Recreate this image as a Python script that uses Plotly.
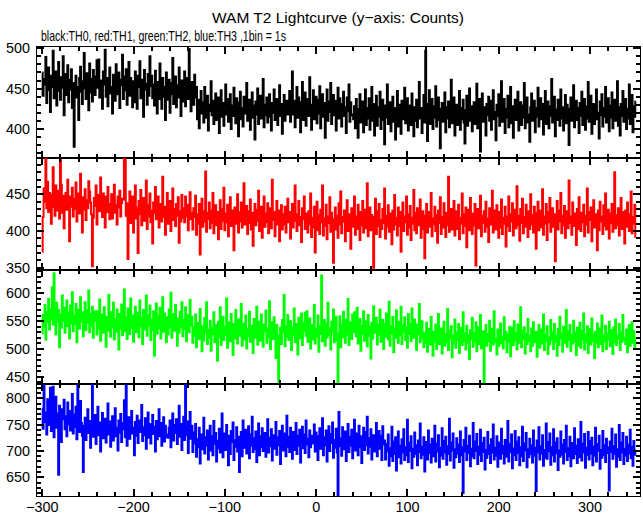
import plotly.graph_objects as go

# ---------------- data (counts per 1 s bin) ----------------
T_START = -300   # first bin time (s)
BIN_S = 1        # bin width (s)

th0_counts = [
    470, 441, 462, 455, 489, 432, 448, 476, 459, 421, 466, 452, 497, 438, 445, 471, 429, 458, 483, 447,
    436, 464, 451, 490, 417, 455, 468, 442, 479, 433, 461, 449, 474, 426, 457, 378, 444, 466, 439, 452,
    411, 463, 477, 446, 431, 459, 494, 450, 437, 469, 456, 423, 481, 445, 462, 434, 473, 458, 442, 465,
    485, 451, 486, 439, 460, 447, 425, 471, 455, 498, 440, 463, 428, 457, 476, 444, 452, 419, 467, 449,
    435, 480, 458, 443, 470, 426, 461, 454, 492, 437, 465, 448, 474, 430, 456, 483, 441, 463, 450, 427,
    459, 433, 471, 447, 425, 466, 452, 484, 438, 461, 444, 415, 473, 449, 456, 430, 468, 441, 490, 453,
    466, 438, 455, 429, 472, 444, 419, 458, 437, 481, 446, 425, 463, 440, 452, 411, 470, 436, 448, 461,
    420, 457, 443, 488, 431, 449, 465, 427, 454, 439, 476, 445, 416, 460, 434, 451, 471, 428, 446, 463,
    437, 499, 441, 422, 458, 447, 430, 467, 439, 452,
    412, 436, 401, 428, 447, 419, 433, 408, 452, 425, 414, 441, 398, 430, 422, 459, 417, 435, 406, 428,
    444, 411, 426, 439, 395, 421, 448, 415, 432, 404, 427, 455, 418, 437, 409, 423, 443, 400, 429, 416,
    451, 424, 407, 438, 420, 391, 433, 446, 412, 426, 403, 440, 419, 431, 457, 410, 425, 436, 399, 422,
    445, 414, 429, 387, 434, 418, 450, 406, 427, 441, 413, 424, 462, 402, 430, 417, 439, 408, 426, 443,
    415, 398, 432, 420, 449, 411, 428, 437, 405, 423, 454, 416, 431, 394, 427, 442, 410, 425, 435, 418,
    431, 447, 409, 426, 471, 418, 435, 402, 428, 452, 414, 439, 423, 396, 433, 458, 411, 427, 445, 404,
    421, 437, 416, 464, 425, 399, 430, 448, 412, 424, 440, 407, 436, 419, 453, 401, 428, 443, 415, 432,
    389, 426, 449, 410, 434, 421, 457, 406, 429, 442, 417, 435, 398, 424, 451, 413, 438, 420, 403, 431,
    446, 416, 427, 395, 439, 422, 455, 409, 433, 418,
    417, 412, 428, 401, 437, 419, 389, 425, 443, 408, 421, 434, 396, 417, 449, 405, 426, 413, 438, 399,
    420, 452, 410, 431, 392, 418, 441, 404, 427, 415, 446, 400, 423, 436, 411, 381, 429, 414, 455, 406,
    419, 433, 397, 422, 440, 409, 426, 387, 416, 447, 403, 430, 418, 394, 435, 412, 424, 451, 407, 421,
    438, 398, 415, 429, 405, 444, 419, 391, 427, 410, 436, 402, 423, 458, 413, 426, 395, 420, 442, 408,
    497, 431, 385, 424, 448, 406, 419, 437, 400, 428, 414, 453, 403, 422, 439, 411, 376, 425, 432, 409,
    418, 445, 396, 427, 413, 434, 402, 420, 461, 407, 424, 439, 392, 416, 430, 405, 421, 447, 399, 426,
    412, 436, 408, 382, 423, 441, 404, 419, 450, 410, 428, 397, 415, 433, 406, 425, 456, 401, 418, 437,
    372, 420, 444, 409, 427, 413, 392, 431, 417, 440,
    410, 435, 399, 424, 448, 412, 421, 386, 430, 416, 443, 404, 427, 459, 409, 420, 437, 395, 425, 414,
    441, 402, 419, 452, 407, 428, 389, 422, 436, 411, 424, 446, 398, 417, 433, 405, 429, 414, 457, 401,
    423, 439, 408, 418, 384, 427, 444, 410, 421, 435, 396, 426, 415, 451, 403, 420, 438, 412, 431, 393,
    425, 447, 406, 419, 434, 401, 428, 416, 462, 408, 422, 440, 391, 424, 411, 436, 419, 404, 449, 413,
    427, 398, 421, 442, 407, 430, 417, 380, 425, 439, 410, 423, 454, 402, 418, 435, 411, 426, 395, 432,
    416, 446, 405, 421, 437, 399, 428, 413, 458, 409, 424, 441, 394, 419, 431, 406, 427, 449, 412, 420,
    388, 434, 417, 443, 403, 426, 415, 452, 408, 422, 438, 397, 429, 414, 445, 401, 423, 436, 410, 418,
    459, 404, 427, 392, 431, 416, 447, 409, 421, 437, 400, 425, 413, 455, 406, 420, 442, 396, 428, 415,
    434,
]

th1_counts = [
    372, 419, 458, 440, 499, 431, 467, 426, 452, 438, 410, 449, 487, 433, 421, 462, 446, 428, 455, 417,
    497, 463, 425, 448, 404, 436, 452, 429, 470, 441, 386, 447, 433, 459, 420, 444, 430, 466, 413, 437,
    451, 424, 478, 435, 398, 446, 429, 457, 415, 442, 431, 468, 454, 439, 423, 352, 418, 445, 434, 462,
    409, 436, 449, 427, 473, 440, 419, 451, 432, 405, 447, 426, 460, 437, 416, 428, 450, 417, 441, 463,
    425, 436, 409, 447, 432, 455, 420, 438, 444,
    443, 499, 497, 421, 438, 362, 429, 454, 411, 434, 447, 398, 426, 462, 417, 432, 370, 441, 423, 456,
    408, 430, 445, 414, 427, 469, 403, 436, 420, 451, 412, 428, 383, 439, 425, 460, 416, 431, 447, 405,
    422, 437, 413, 474, 419, 433, 395, 426, 452, 410, 428, 441, 400, 424, 458, 415, 430, 407, 437, 421,
    446, 384, 427, 413, 449, 418, 431, 412, 447, 420, 436, 401, 428, 453, 416, 425,
    402, 431, 419, 448, 395, 423, 410, 437, 368, 421, 444, 406, 427, 413, 481, 399, 425, 416, 439, 404,
    428, 411, 452, 397, 420, 435, 408, 426, 389, 417, 442, 403, 430, 414, 459, 401, 424, 412, 436, 393,
    419, 446, 407, 428, 415, 374, 432, 410, 423, 450, 398, 426, 413, 439, 405, 421, 465, 409, 418, 434,
    396, 427, 411, 443, 402, 425, 380, 416, 437, 408, 429, 414, 455, 400, 422, 433, 391, 419, 447, 406,
    424, 412, 438, 397, 420, 431, 404, 470, 415, 426, 393, 421, 441, 409, 428, 386, 417, 435, 402, 423,
    409, 433, 398, 421, 444, 412, 426, 390, 418, 437, 405, 429, 462, 414, 400, 423, 441, 408, 419, 385,
    431, 416, 447, 403, 424, 411,
    398, 427, 409, 451, 392, 418, 405, 433, 371, 414, 440, 401, 422, 396, 429, 412, 462, 394, 417, 407,
    436, 389, 420, 411, 446, 399, 425, 404, 357, 416, 432, 402, 421, 391, 438, 409, 454, 397, 419, 413,
    428, 386, 415, 442, 400, 423, 410, 376, 431, 406, 418, 447, 395, 420, 403, 436, 412, 388, 426, 408,
    441, 398, 417, 429, 404, 465, 393, 414, 432, 401, 422, 410, 350, 419, 444, 396, 427, 407, 437, 392,
    415, 403, 430, 411, 458, 390, 421, 406, 435, 399, 424, 413, 382, 428, 402, 449, 409, 418, 394, 432,
    407, 426, 372, 416, 439, 400, 420, 412, 447, 395, 423, 405, 434, 388, 418, 410, 456, 401, 425, 397,
    431, 408, 419, 443, 391, 414, 427, 403, 363, 421, 437, 398, 412, 426, 406, 452, 393, 417, 409, 433,
    400, 422, 384, 428, 411, 446, 396, 419, 405, 438, 413, 392, 425, 408, 474, 399, 416, 430, 402, 420,
    441, 394, 411, 427, 403, 436, 389, 418, 410, 451, 397, 423, 407, 432, 378, 415, 429, 401, 445, 412,
    396, 424, 408, 437, 353, 419, 430, 404, 416, 448, 393, 421, 411, 427, 399, 440, 406, 417, 385, 431,
    409, 422, 455, 398, 414, 428, 402, 435, 412, 391, 426, 405, 443, 396, 418, 410, 433, 379, 420, 407,
    447, 400, 423, 413, 438, 394, 416, 429, 404, 461, 408, 421, 387, 430, 411, 444, 397, 419, 406, 436,
    414, 392, 427, 403, 450, 409, 422, 398, 433, 415, 376, 425, 440, 401, 418, 428, 405, 457, 395, 420,
    410, 437, 388, 426, 412, 445, 399, 417, 431, 406, 423, 359, 419, 441, 402, 428, 413, 452, 397, 421,
    408, 434, 391, 416, 427, 404, 469, 411, 420, 395, 439, 407, 424, 414, 381, 430, 403, 446, 418, 400,
    425, 412, 436, 393, 421, 409, 458, 398, 426, 415, 432, 386, 419, 442, 405, 423, 410, 374, 428, 401,
    440, 413, 420, 396, 435, 407, 451, 402, 418, 429, 390, 424, 411, 437, 399, 416, 480, 404, 422, 408,
    431, 394, 417, 445, 403, 426, 412, 383, 428, 406, 439, 415, 400, 423, 454, 397, 419, 410, 436, 392,
]

th2_counts = [
    528, 561, 540, 579, 517, 566, 548, 590, 535, 572, 553, 611, 544, 636, 559, 526, 583, 549, 570, 503,
    562, 538, 596, 551, 574, 529, 557, 587, 541, 565, 519, 578, 546, 602, 532, 560, 545, 581, 512, 555,
    571, 537, 593, 549, 566, 523, 558, 584, 534, 569, 547, 605, 530, 563, 541, 576, 520, 554, 568,
    551, 526, 568, 537, 589, 515, 546, 562, 529, 575, 541, 504, 558, 533, 597, 548, 522, 566, 539, 583,
    517, 554, 531, 571, 543, 499, 563, 536, 580, 525, 549, 607, 532, 557, 518, 573, 545, 527, 591, 538,
    560, 513, 552, 576, 530, 546, 565, 521, 587, 541, 556, 509, 570, 535, 549, 596, 524, 561, 542, 578,
    516, 553, 534, 568, 488, 547, 582, 528, 559, 537, 574, 519, 550, 593, 531, 564, 543, 512, 557, 526,
    571, 539, 601, 520, 548, 563, 533, 579, 545, 506, 555, 529, 567, 540, 584, 523, 552, 536, 575, 514,
    547, 561, 530, 588, 542, 558,
    511, 539, 524, 562, 503, 531, 547, 518, 572, 527, 496, 541, 515, 556, 529, 584, 509, 535, 520, 551,
    497, 538, 526, 566, 512, 543, 530, 479, 549, 521, 575, 507, 534, 558, 516, 540, 525, 591, 502, 532,
    548, 514, 563, 528, 489, 545, 519, 570, 533, 510, 553, 524, 537, 581, 506, 529, 546, 517, 560, 501,
    536, 523, 567, 513, 542, 527, 493, 554, 520, 539, 576, 508, 531, 549, 515, 562, 526, 504, 544, 532,
    569, 511, 537, 521, 586, 500, 535, 548, 518, 557, 529, 484, 543, 514, 441, 525, 538, 509, 552, 530,
    597, 505, 541, 522, 561, 516, 534, 550, 498, 539, 526, 573, 512, 545, 528, 490, 556, 519, 535, 564,
    507, 532, 547, 565, 524, 568, 513, 538, 555, 501, 529, 543, 517, 579, 510, 536, 522, 560, 495, 541,
    527, 632, 514, 533, 552, 506, 546, 520, 583, 525, 537, 499, 549, 531, 571, 512, 540, 558, 516, 438,
    528, 559, 503, 544, 521, 567, 535, 511, 553, 526, 590, 507, 539, 548, 518, 562, 530, 566, 546, 523,
    574, 510, 536, 554, 497, 542, 527, 568, 515, 533, 550, 505, 561, 524, 540, 483, 547, 519, 577, 529,
    535, 556, 508, 543, 526, 571, 513, 538, 552, 500, 545, 522, 564, 531, 517, 585, 506, 541, 528, 558,
    494, 537, 520, 569, 533, 511, 549, 525, 576, 509, 542, 530, 557, 516, 539, 502, 563, 527, 545, 514,
    573, 531, 520, 553, 536, 498, 544, 526, 581, 512, 538, 550, 519,
    503, 529, 511, 547, 495, 522, 536, 508, 558, 517, 488, 531, 513, 544, 500, 526, 563, 509, 520, 537,
    492, 515, 549, 506, 527, 512, 572, 498, 533, 519, 541, 485, 524, 510, 553, 502, 530, 516, 545, 493,
    521, 538, 507, 566, 514, 528, 499, 542, 511, 525, 482, 534, 518, 556, 504, 529, 513, 548, 496, 523,
    539, 509, 561, 501, 520, 532, 440, 516, 543, 506, 527, 514, 551, 497, 524, 536, 508, 568, 512, 519,
    490, 535, 505, 528, 546, 510, 522, 501, 557, 517, 531, 494, 526, 513, 540, 487, 523, 538, 507, 550,
    515, 529, 499, 544, 511, 521, 575, 503, 533, 518, 539, 492, 527, 509, 554, 514, 524, 496, 537, 506,
    548, 520, 512, 531, 486, 525, 543, 502, 518, 535, 510, 562, 498, 526, 515, 541, 491, 521, 508, 552,
    517, 530, 500, 545, 513, 524, 488, 536, 507, 558, 519, 528, 495, 540, 511, 523, 570, 504, 532, 516,
    543, 497, 525, 510, 551, 514, 529, 489, 538, 506, 520, 547, 502, 533, 517, 564, 499, 527, 512, 541,
    493, 522, 536, 508, 555, 515, 526, 484, 531, 511, 546, 503, 519, 537, 509, 560, 496, 524, 514, 542,
    500, 528, 517, 549, 505, 521, 534, 491, 539, 512, 553, 507, 525, 518, 545, 498, 530, 513, 561, 516,
    520, 509, 535, 494, 527, 543, 506, 522, 548, 511, 532, 501, 519,
]

th3_counts = [
    781, 742, 826, 755, 773, 731, 798, 749, 768, 820, 738, 762, 822, 726, 757, 803, 744, 771, 655, 786,
    752, 717, 779, 760, 797, 741, 766, 728, 792, 750, 776, 739, 761, 808, 733, 769, 745, 784, 722, 825,
    774, 736, 795, 753, 729, 660, 748,
    763, 721, 748, 779, 734, 757, 706, 742, 825, 727, 751, 768, 713, 745, 784, 730, 754, 699, 739, 772,
    724, 748, 761, 716, 743, 790, 731, 756, 708, 737, 766, 720, 749, 781, 728, 744, 701, 758, 735, 770,
    717, 741, 753, 796, 726, 824, 710, 738, 764, 723, 750, 776, 733, 744, 692, 755, 729, 767, 715, 740,
    758, 736, 787, 719, 745, 730, 762, 704, 742, 773, 725, 751, 714, 739, 768, 732, 746, 699, 757, 722,
    741, 779, 728, 753, 710, 737, 764, 718, 748, 731, 726, 725, 744, 758, 707, 739, 771, 720, 749, 734,
    760, 713, 743, 786, 727, 751, 702, 736, 765, 721, 827, 730, 756, 696, 740, 774, 723, 748,
    698, 735, 714, 751, 689, 722, 707, 744, 676, 718, 731, 703, 763, 695, 726, 710, 739, 684, 715, 748,
    701, 728, 692, 757, 713, 734, 680, 720, 705, 742, 697, 725, 771, 688, 716, 733, 702, 749, 711, 673,
    729, 694, 738, 717, 754, 683, 721, 708, 745, 699, 727, 660, 714, 736, 690, 758, 706, 723, 740, 695,
    719, 747, 686, 731, 710, 765, 698, 724, 703, 737, 679, 716, 752, 692, 728, 707, 743, 700, 721, 734,
    689, 712, 760, 697, 725, 709, 741, 682, 718, 730, 704, 755, 693, 726, 711, 738, 675, 720, 748, 701,
    715, 733, 690, 767, 708, 727, 698, 744, 713, 685, 736, 720, 702, 753, 694, 729, 710, 740, 678, 717,
    746, 705, 731, 696, 758, 712, 723, 688, 739, 707, 725, 729, 714, 750, 699, 735, 710, 683, 728, 743,
    704, 719, 762, 692, 726, 711, 739, 680, 716, 747, 700, 732, 715, 754, 687, 721, 706, 742, 697, 616,
    774, 709, 724, 691, 745, 713, 703, 737, 681, 718, 751, 698, 727, 710, 740, 686, 722, 759, 701, 733,
    714, 692, 748, 707, 728, 677, 719, 744, 702, 736, 711, 765, 695, 724, 708, 741, 684, 717, 730, 699,
    726, 753, 690, 715, 738, 704, 729, 683, 747, 712, 720,
    684, 713, 699, 731, 672, 705, 690, 746, 681, 718, 694, 726, 663, 702, 737, 688, 710, 676, 722, 697,
    741, 683, 707, 692, 759, 679, 715, 700, 728, 667, 704, 689, 735, 694, 711, 673, 720, 698, 752, 686,
    708, 693, 726, 661, 701, 717, 684, 739, 696, 712, 678, 723, 690, 705, 748, 680, 714, 699, 730, 669,
    706, 691, 743, 685, 719, 697, 727, 674, 709, 694, 761, 682, 716, 701, 733, 668, 703, 688, 724, 695,
    712, 679, 737, 692, 707, 620, 721, 699, 744, 683, 710, 696, 729, 671, 704, 690, 753, 686, 718, 700,
    732, 675, 708, 693, 740, 681, 715, 698, 725, 665, 702, 687, 736, 694, 711, 677, 722, 697, 750, 684,
    706, 691, 728, 670, 700, 716, 685, 742, 695, 709, 676, 721, 689, 704, 757, 680, 713, 698, 731, 667,
    705, 692, 738, 683, 718, 696, 726, 673, 707, 690, 746, 681, 714, 701, 734, 669, 703, 688, 723, 694,
    711, 678, 739, 691, 706, 624, 720, 697, 745, 684, 709, 695, 730, 672, 702, 687, 752, 685, 717, 699,
    733, 674, 707, 692, 741, 680, 716, 696, 724, 664, 701, 689, 737, 693, 712, 676, 721, 698, 748, 683,
    705, 690, 727, 671, 699, 715, 686, 743, 694, 710, 677, 722, 688, 703, 755, 682, 714, 697, 732, 668,
    706, 693, 736, 684, 719, 695, 725, 673, 708, 691, 744, 680, 713, 700, 729, 666, 702, 687, 738, 692,
    711, 679, 723, 696, 707, 625, 718, 698, 742, 685, 709, 694, 731, 670, 703, 689, 749, 683, 716, 697,
    734, 675, 704, 691, 727, 681, 712, 695, 740, 686, 708, 672, 719, 693, 701,
]

series_names = ["TH0", "TH1", "TH2", "TH3"]
series_values = [th0_counts, th1_counts, th2_counts, th3_counts]

title_text = "WAM T2 Lightcurve (y\u2212axis: Counts)"
subtitle_text = "black:TH0, red:TH1, green:TH2, blue:TH3 ,1bin = 1s"

# ---------------- figure ----------------
colors = ["#000000", "#ff0000", "#00ff00", "#0000ff"]
y_ranges = [[364, 501.5], [347, 499.5], [437, 642], [614.5, 827]]
domains = [[0.7528, 1.0], [0.5033, 0.7528], [0.2494, 0.5033], [0.0, 0.2494]]
x_range = [-305.7, 354.7]
FONT = "Liberation Sans, Arial, Helvetica, sans-serif"

fig = go.Figure()
layout = dict(
    width=643, height=515,
    margin=dict(l=37, r=3, t=47, b=19, autoexpand=False),
    paper_bgcolor="white", plot_bgcolor="white",
    showlegend=False,
    font=dict(family=FONT, size=14.4, color="black"),
)

for i, (name, vals) in enumerate(zip(series_names, series_values)):
    k = "" if i == 0 else str(i + 1)
    t = [T_START + j * BIN_S for j in range(len(vals))]
    fig.add_trace(go.Scatter(
        x=t, y=vals, mode="lines", name=name,
        line=dict(color=colors[i], width=2, shape="hvh"),
        xaxis="x" + k, yaxis="y" + k, hoverinfo="skip",
    ))
    layout["xaxis" + k] = dict(
        domain=[0, 1], anchor="y" + k, range=x_range, automargin=False,
        showline=True, linecolor="black", linewidth=1, mirror="allticks",
        ticks="inside", ticklen=7, tickwidth=2, tickcolor="black",
        dtick=100, tick0=0, showgrid=False, zeroline=False,
        showticklabels=(i == 3), ticklabelstandoff=-2,
        minor=dict(ticks="inside", ticklen=4, tickwidth=1.5, dtick=20,
                   tickcolor="black", showgrid=False),
        **({} if i == 0 else {"matches": "x"}),
    )
    layout["yaxis" + k] = dict(
        domain=domains[i], anchor="x" + k, range=y_ranges[i], automargin=False,
        showline=True, linecolor="black", linewidth=1, mirror="allticks",
        ticks="inside", ticklen=7, tickwidth=1.5, tickcolor="black",
        dtick=50, tick0=0, showgrid=False, zeroline=False,
        ticklabelstandoff=3,
        minor=dict(ticks="inside", ticklen=4, tickwidth=1.5, dtick=10,
                   tickcolor="black", showgrid=False),
    )

layout["annotations"] = [
    dict(text=title_text, xref="paper", yref="paper", x=0.499, y=1.0646,
         xanchor="center", yanchor="middle", showarrow=False,
         font=dict(family=FONT, size=15.5, color="black")),
    dict(text=subtitle_text, xref="paper", yref="paper", x=0.003, y=1.0234,
         xanchor="left", yanchor="middle", align="left", showarrow=False,
         font=dict(family=FONT, size=14.5, color="black")),
]
fig.update_layout(**layout)

# Page styling: no body margin, and the subtitle is set in the condensed
# width the reference uses (the text stays real SVG text).
post_js = """
document.body.style.margin = '0';
var gd = document.getElementById('{plot_id}');
try {
  gd.querySelectorAll('.annotation-text').forEach(function (t) {
    if (t.textContent.indexOf('black:TH0') === 0) {
      t.setAttribute('textLength', '245');
      t.setAttribute('lengthAdjust', 'spacingAndGlyphs');
    }
  });
} catch (e) {}
"""
fig.write_html("out.html", post_script=post_js,
               config={"displayModeBar": False, "staticPlot": False})
